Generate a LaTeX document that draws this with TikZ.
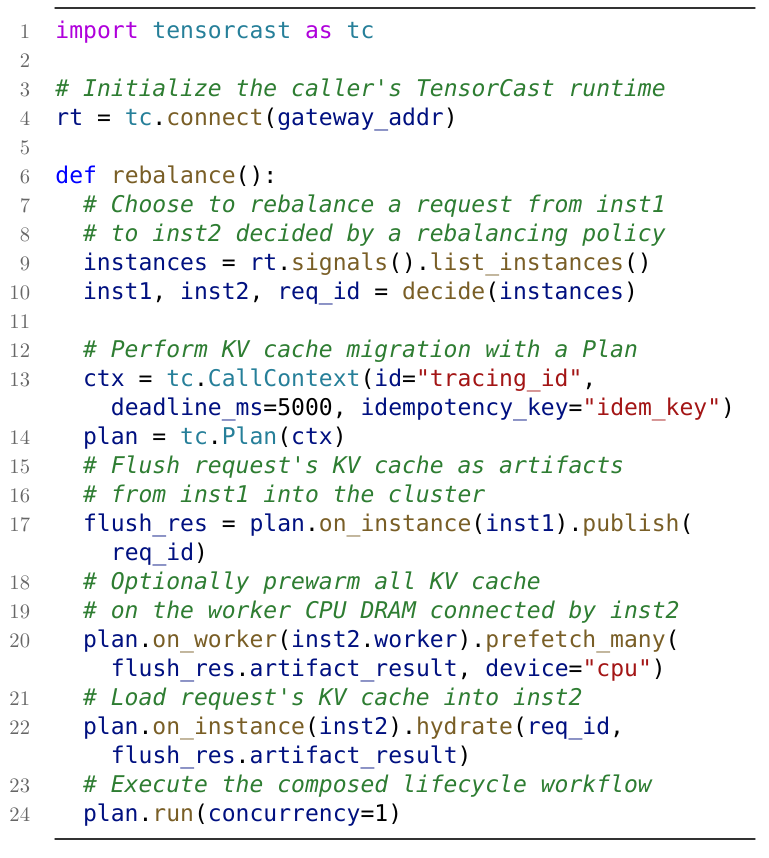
\documentclass[tikz,border=0pt]{standalone}
\usepackage{fontspec}
\newfontfamily\codefont{DejaVu Sans Mono}
\definecolor{kwpurple}{HTML}{AF00DB}
\definecolor{kwblue}{HTML}{0000FF}
\definecolor{tyteal}{HTML}{267F99}
\definecolor{fnbrown}{HTML}{795E26}
\definecolor{vanavy}{HTML}{001080}
\definecolor{strred}{HTML}{A31515}
\definecolor{cmgreen}{HTML}{2E7D32}
\definecolor{numgray}{HTML}{666666}
\definecolor{rulegray}{HTML}{333333}
\newcommand{\kwP}[1]{\textcolor{kwpurple}{#1}}
\newcommand{\kwB}[1]{\textcolor{kwblue}{#1}}
\newcommand{\tyC}[1]{\textcolor{tyteal}{#1}}
\newcommand{\fnC}[1]{\textcolor{fnbrown}{#1}}
\newcommand{\vaC}[1]{\textcolor{vanavy}{#1}}
\newcommand{\stC}[1]{\textcolor{strred}{#1}}
\newcommand{\cmC}[1]{\textcolor{cmgreen}{\itshape #1}}
\tikzset{
	codeline/.style={anchor=base west,inner sep=0pt,font={\fontsize{11.52}{14}\codefont\frenchspacing}},
	lnum/.style={anchor=base east,inner sep=0pt,text=numgray,font=\fontsize{10.3}{12}\selectfont},
	lrule/.style={draw=rulegray,line width=0.7pt}
}
\begin{document}
\begin{tikzpicture}[x=0.5pt,y=-0.5pt,line join=round,line cap=round]
				\useasboundingbox (0,0) rectangle (768,858);
				% frame rules
				\coordinate (topL) at (55,8);
				\coordinate (topR) at (755,8);
				\coordinate (botL) at (55,839);
				\coordinate (botR) at (755,839);
				\draw[lrule] (topL)--(topR);
				\draw[lrule] (botL)--(botR);
				% line numbers
				\foreach \n/\r in {1/0,2/1,3/2,4/3,5/4,6/5,7/6,8/7,9/8,10/9,11/10,12/11,13/12,14/14,15/15,16/16,17/17,18/19,19/20,20/21,21/23,22/24,23/26,24/27}
					\node[lnum] (n\n) at (30.5,38.5+29*\r) {\n};
				% code, indent 0
				\path
				(55,38.5) node[codeline] (c1) {\kwP{import} \tyC{tensorcast} \kwP{as} \tyC{tc}}
				(55,96.5) node[codeline] (c3) {\cmC{\# Initialize the caller's TensorCast runtime}}
				(55,125.5) node[codeline] (c4) {\vaC{rt} = \tyC{tc}.\fnC{connect}(\vaC{gateway\_addr})}
				(55,183.5) node[codeline] (c6) {\kwB{def} \fnC{rebalance}():}
				;
				% code, indent 2
				\path
				(82.7,212.5) node[codeline] (c7) {\cmC{\# Choose to rebalance a request from inst1}}
				(82.7,241.5) node[codeline] (c8) {\cmC{\# to inst2 decided by a rebalancing policy}}
				(82.7,270.5) node[codeline] (c9) {\vaC{instances} = \vaC{rt}.\fnC{signals}().\fnC{list\_instances}()}
				(82.7,299.5) node[codeline] (c10) {\vaC{inst1}, \vaC{inst2}, \vaC{req\_id} = \fnC{decide}(\vaC{instances})}
				(82.7,357.5) node[codeline] (c12) {\cmC{\# Perform KV cache migration with a Plan}}
				(82.7,386.5) node[codeline] (c13) {\vaC{ctx} = \tyC{tc}.\tyC{CallContext}(\vaC{id}=\stC{"tracing\_id"},}
				(82.7,444.5) node[codeline] (c14) {\vaC{plan} = \tyC{tc}.\tyC{Plan}(\vaC{ctx})}
				(82.7,473.5) node[codeline] (c15) {\cmC{\# Flush request's KV cache as artifacts}}
				(82.7,502.5) node[codeline] (c16) {\cmC{\# from inst1 into the cluster}}
				(82.7,531.5) node[codeline] (c17) {\vaC{flush\_res} = \vaC{plan}.\fnC{on\_instance}(\vaC{inst1}).\fnC{publish}(}
				(82.7,589.5) node[codeline] (c18) {\cmC{\# Optionally prewarm all KV cache}}
				(82.7,618.5) node[codeline] (c19) {\cmC{\# on the worker CPU DRAM connected by inst2}}
				(82.7,647.5) node[codeline] (c20) {\vaC{plan}.\fnC{on\_worker}(\vaC{inst2}.\vaC{worker}).\fnC{prefetch\_many}(}
				(82.7,705.5) node[codeline] (c21) {\cmC{\# Load request's KV cache into inst2}}
				(82.7,734.5) node[codeline] (c22) {\vaC{plan}.\fnC{on\_instance}(\vaC{inst2}).\fnC{hydrate}(\vaC{req\_id},}
				(82.7,792.5) node[codeline] (c23) {\cmC{\# Execute the composed lifecycle workflow}}
				(82.7,821.5) node[codeline] (c24) {\vaC{plan}.\fnC{run}(\vaC{concurrency}=1)}
				;
				% continuation lines, indent 4
				\path
				(110.5,415.5) node[codeline] (c13b) {\vaC{deadline\_ms}=5000, \vaC{idempotency\_key}=\stC{"idem\_key"})}
				(110.5,560.5) node[codeline] (c17b) {\vaC{req\_id})}
				(110.5,676.5) node[codeline] (c20b) {\vaC{flush\_res}.\vaC{artifact\_result}, \vaC{device}=\stC{"cpu"})}
				(110.5,763.5) node[codeline] (c22b) {\vaC{flush\_res}.\vaC{artifact\_result})}
				;
			\end{tikzpicture}
\end{document}
